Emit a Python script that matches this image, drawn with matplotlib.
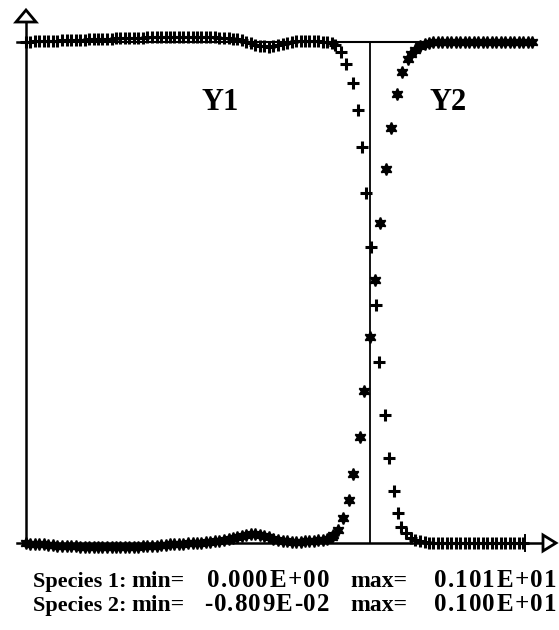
import numpy as np
import matplotlib
matplotlib.use("Agg")
from matplotlib import pyplot as plt
from matplotlib.patches import Polygon

# mesh nodes shared by both species away from the front
x_left = [0.000, 0.009, 0.018, 0.027, 0.036, 0.045, 0.054, 0.063, 0.072, 0.081,
          0.090, 0.099, 0.108, 0.117, 0.126, 0.135, 0.144, 0.153, 0.162, 0.171,
          0.180, 0.189, 0.198, 0.207, 0.216, 0.225, 0.234, 0.243, 0.252, 0.261,
          0.270, 0.279, 0.288, 0.297, 0.306, 0.315, 0.324, 0.333, 0.342, 0.351,
          0.360, 0.369, 0.378, 0.387, 0.396, 0.405, 0.414, 0.423, 0.432, 0.441,
          0.450, 0.459, 0.468, 0.477, 0.486, 0.495, 0.504, 0.513, 0.522, 0.531,
          0.540, 0.549, 0.558, 0.567, 0.576, 0.585, 0.594, 0.603, 0.612]
x_right = [0.770, 0.779, 0.788, 0.797, 0.806, 0.815, 0.824, 0.833, 0.842, 0.851,
           0.860, 0.869, 0.878, 0.887, 0.896, 0.905, 0.914, 0.923, 0.932, 0.941,
           0.950, 0.959, 0.968, 0.977, 0.986, 0.995, 1.004, 1.013]

# species 1 (Y1)
y1_left = [1.000, 1.000, 1.001, 1.001, 1.001, 1.002, 1.002, 1.002, 1.003, 1.003,
           1.003, 1.004, 1.004, 1.004, 1.005, 1.005, 1.005, 1.006, 1.006, 1.006,
           1.007, 1.007, 1.007, 1.008, 1.008, 1.008, 1.008, 1.009, 1.009, 1.009,
           1.009, 1.009, 1.010, 1.010, 1.010, 1.010, 1.010, 1.010, 1.010, 1.010,
           1.010, 1.009, 1.009, 1.008, 1.008, 1.007, 1.006, 1.005, 1.003, 1.000,
           0.997, 0.994, 0.992, 0.991, 0.990, 0.991, 0.993, 0.996, 0.998, 1.000,
           1.001, 1.002, 1.002, 1.002, 1.001, 1.001, 1.000, 1.000, 0.998]
y1_front_x = [0.618, 0.631, 0.641, 0.653, 0.663, 0.671, 0.680, 0.691,
              0.700, 0.707, 0.718, 0.727, 0.736, 0.745, 0.751, 0.761]
y1_front = [0.993, 0.980, 0.955, 0.918, 0.863, 0.789, 0.697, 0.590,
            0.475, 0.360, 0.255, 0.169, 0.104, 0.060, 0.031, 0.020]
y1_right = [0.010, 0.006, 0.003, 0.001, 0.000, 0.000, 0.000, 0.000, 0.000, 0.000,
            0.000, 0.000, 0.000, 0.000, 0.000, 0.000, 0.000, 0.000, 0.000, 0.000,
            0.000, 0.000, 0.000, 0.000, 0.000, 0.000]

# species 2 (Y2)
y2_left = [-0.001, -0.002, -0.002, -0.003, -0.003, -0.004, -0.004, -0.005, -0.005, -0.006,
           -0.006, -0.006, -0.007, -0.007, -0.007, -0.008, -0.008, -0.008, -0.008, -0.008,
           -0.008, -0.008, -0.008, -0.007, -0.007, -0.007, -0.006, -0.006, -0.005, -0.005,
           -0.004, -0.004, -0.003, -0.003, -0.002, -0.002, -0.001, -0.001, 0.000, 0.000,
           0.001, 0.002, 0.003, 0.004, 0.006, 0.008, 0.010, 0.012, 0.014, 0.016,
           0.017, 0.017, 0.016, 0.014, 0.011, 0.008, 0.006, 0.004, 0.003, 0.002,
           0.002, 0.002, 0.003, 0.003, 0.004, 0.005, 0.006, 0.008, 0.012]
y2_front_x = [0.615, 0.625, 0.635, 0.645, 0.653, 0.667, 0.676, 0.687, 0.698,
              0.709, 0.721, 0.731, 0.743, 0.753, 0.765, 0.771, 0.778, 0.787]
y2_front = [0.016, 0.026, 0.049, 0.086, 0.138, 0.211, 0.303, 0.411, 0.524,
            0.639, 0.746, 0.828, 0.895, 0.940, 0.966, 0.975, 0.983, 0.991]
y2_right = [0.996, 0.998, 0.999, 1.000, 1.000, 1.000, 1.000, 1.000, 1.000,
            1.000, 1.000, 1.000, 1.000, 1.000, 1.000, 1.000, 1.000, 1.000, 1.000,
            1.000, 1.000, 1.000, 1.000, 1.000, 1.000]

x_front = 0.688
stats = [("Species 1:", "0.000E+00", "0.101E+01"),
         ("Species 2:", "-0.809E-02", "0.100E+01")]

W, H = 559, 630
fig = plt.figure(figsize=(W / 100, H / 100), dpi=100)
ax = fig.add_axes([0, 0, 1, 1])
ax.set_xlim(-0.052, 1.066)
ax.set_ylim(-0.1735, 1.0828)
ax.axis('off')

sx = 1 / 500.0   # data units per pixel
sy = 1 / 501.5

# axes, frame line and front position
lw = 1.8
ax.plot([0, 0], [0, 1.039], color='k', lw=lw, solid_capstyle='butt')
ax.plot([0, 1.034], [0, 0], color='k', lw=lw, solid_capstyle='butt')
ax.plot([0, 1.014], [1, 1], color='k', lw=1.5)
ax.plot([x_front, x_front], [0, 1], color='k', lw=1.3)
ax.plot([-9 * sx, 0], [1, 1], color='k', lw=lw)
ax.plot([-9 * sx, 0], [0, 0], color='k', lw=lw)
ax.plot([0.998, 0.998], [-8 * sy, 8 * sy], color='k', lw=1.4)

ax.add_patch(Polygon([[0, 1.0628], [-10 * sx, 1.0389], [10 * sx, 1.0389]],
                     closed=True, fc='white', ec='k', lw=2, zorder=5))
ax.add_patch(Polygon([[1.060, 0], [1.034, 8 * sy], [1.034, -8 * sy]],
                     closed=True, fc='white', ec='k', lw=2, zorder=5))

# species profiles
x1 = x_left + y1_front_x + x_right[:len(y1_right)]
v1 = y1_left + y1_front + y1_right
x2 = x_left + y2_front_x + x_right[3:]
v2 = y2_left + y2_front + y2_right
ax.plot(x1, v1, ls='none', marker='+', ms=9, mew=2.2, color='k')
ax.plot(x2, v2, ls='none', marker=(6, 1, 0), ms=8.5, mew=1.2, color='k')

font = dict(family=['Liberation Serif', 'DejaVu Serif'], weight='bold', color='k')
ax.text(0.388, (543 - 102) * sy, "Y1", ha='center', va='center', fontsize=22, **font)
ax.text(0.844, (543 - 102) * sy, "Y2", ha='center', va='center', fontsize=22, **font)

# numbers set slightly wider than the plain font, right aligned at x_end (px)
em_w = {'.': 0.25, 'E': 0.667, '+': 0.57, '-': 0.333}
def wide_number(s, x_end, yb, size=18, stretch=1.1):
    em = size * 100 / 72.0
    slots = [em_w.get(c, 0.5) * em * stretch for c in s]
    x = x_end - sum(slots)
    for c, w in zip(s, slots):
        ax.text((x + w / 2 - 26) * sx, yb, c, ha='center', va='baseline',
                fontsize=size, **font)
        x += w

for i, (name, vmin, vmax) in enumerate(stats):
    yb = (543 - (587 + 24 * i)) * sy
    ax.text((33 - 26) * sx, yb, name, ha='left', va='baseline', fontsize=16, **font)
    ax.text((131 - 26) * sx, yb, "min=", ha='left', va='baseline', fontsize=17, **font)
    wide_number(vmin, 330, yb)
    ax.text((350 - 26) * sx, yb, "max=", ha='left', va='baseline', fontsize=17, **font)
    wide_number(vmax, 557, yb)

fig.savefig("out.png", dpi=100)
